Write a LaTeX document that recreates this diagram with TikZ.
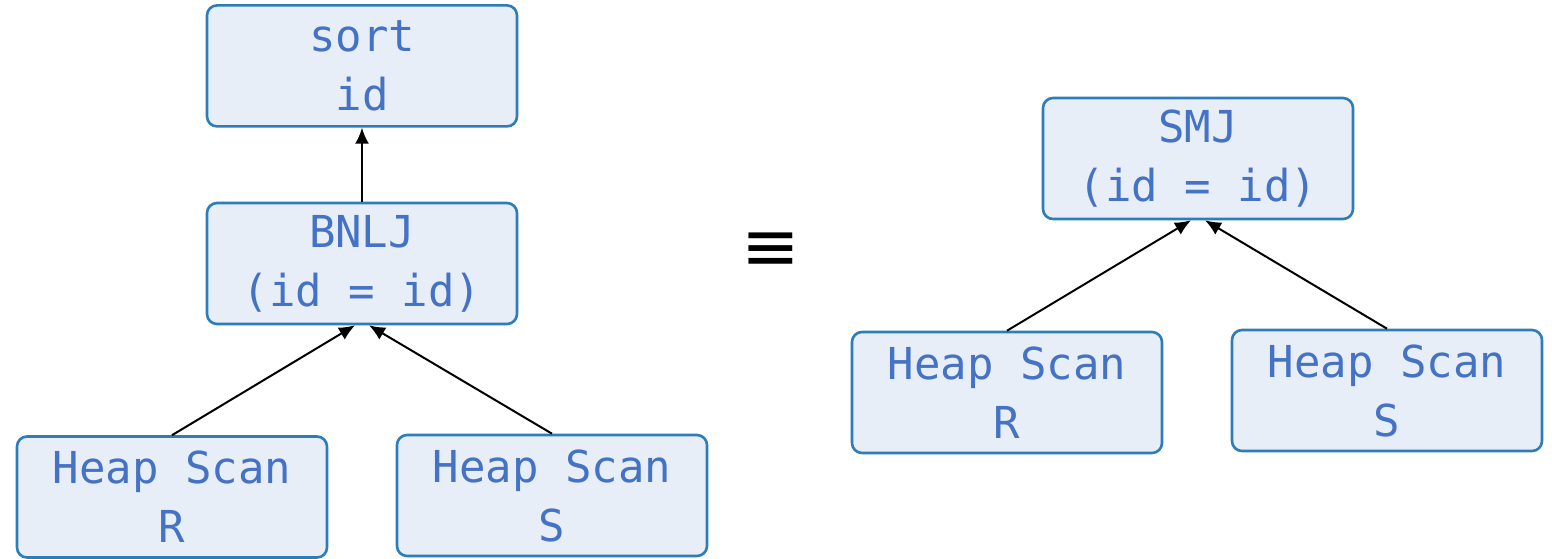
\documentclass[tikz,border=0pt]{standalone}
\usepackage{fontspec}
\setmonofont{DejaVu Sans Mono}
\newfontfamily\symfont{DejaVu Sans}
\usetikzlibrary{positioning,arrows.meta}
\newcommand{\code}[1]{\texttt{#1}}
\definecolor{opfill}{HTML}{E8EEF8}
\definecolor{opline}{HTML}{2E7DB9}
\definecolor{optext}{HTML}{4472C4}

\begin{document}
\begin{tikzpicture}[x=0.5pt,y=-0.5pt,
  op/.style={align=center,draw=opline,fill=opfill,line width=1.3pt,rounded corners=5pt,
    minimum width=155pt,minimum height=60.5pt,text=optext,font=\fontsize{22}{29.5}\ttfamily},
  flow/.style={-{Latex[length=8pt,width=7pt]},line width=1pt}]
  \useasboundingbox (0,0) rectangle (1552,558);

  % left plan: nested loops join, then sort
  \node at (362,263.5) [op] (bnlj) {BNLJ\\(id = id)};
  \node [op,above=37pt of bnlj] (sort) {sort\\id};
  \node at (172,497) [op] (scanrl) {Heap Scan\\R};
  \node at (552,495.5) [op] (scansl) {Heap Scan\\S};

  \draw[flow] (bnlj.north) -- (sort.south);
  \draw[flow] (scanrl.north) -- ([xshift=-3.5pt]bnlj.south);
  \draw[flow] (scansl.north) -- ([xshift=3.5pt]bnlj.south);

  \node at (771,252) (equiv) {\symfont\fontsize{35}{35}\selectfont ≡};

  % right plan: sort-merge join
  \node at (1198,158.5) [op] (smj) {SMJ\\(id = id)};
  \node at (1007,392.5) [op] (scanrr) {Heap Scan\\R};
  \node at (1387,390.5) [op] (scansr) {Heap Scan\\S};

  \draw[flow] (scanrr.north) -- ([xshift=-3.5pt]smj.south);
  \draw[flow] (scansr.north) -- ([xshift=3.5pt]smj.south);
\end{tikzpicture}
\end{document}
